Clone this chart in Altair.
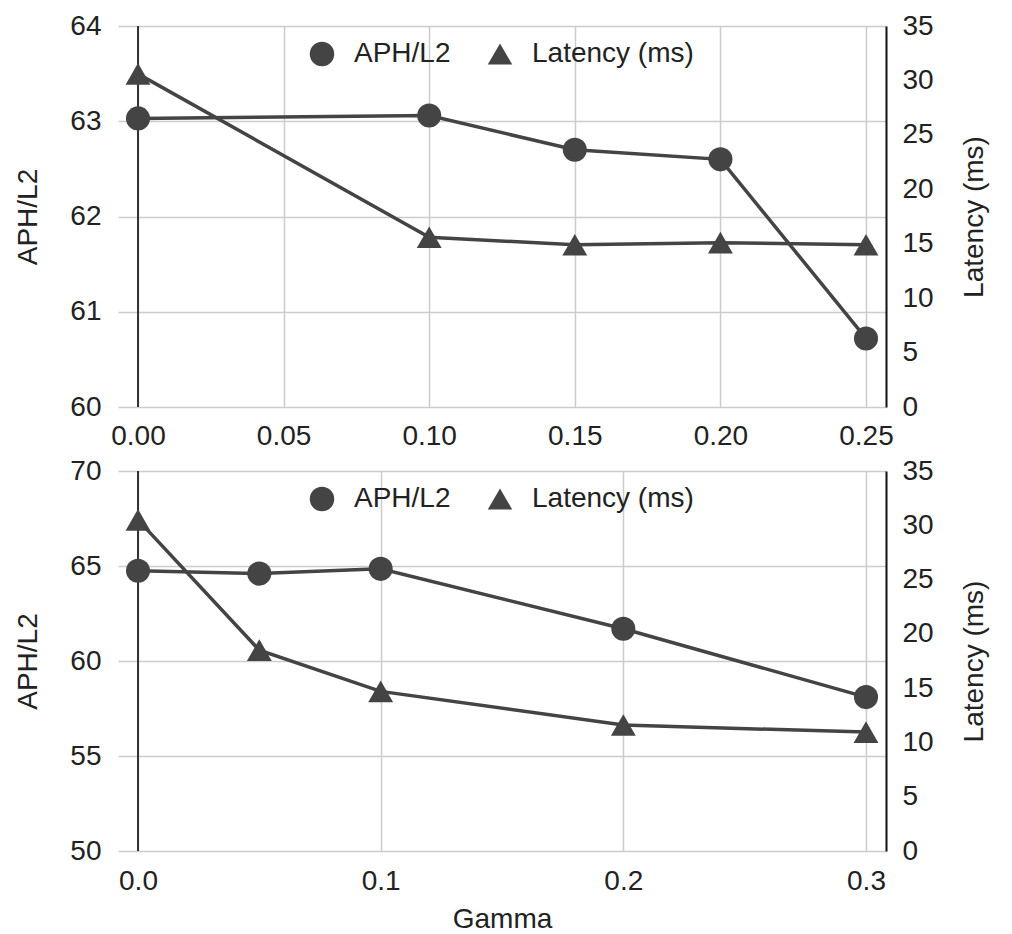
import altair as alt
import pandas as pd

# ---- data ----
top_gamma = [0.0, 0.10, 0.15, 0.20, 0.25]
top_aph = [63.03, 63.06, 62.70, 62.60, 60.72]
top_latency = [30.6, 15.6, 14.9, 15.1, 14.9]

bottom_gamma = [0.0, 0.05, 0.1, 0.2, 0.3]
bottom_aph = [64.75, 64.6, 64.85, 61.7, 58.1]
bottom_latency = [30.5, 18.5, 14.7, 11.6, 10.95]

series_names = ["APH/L2", "Latency (ms)"]
series_shapes = ["circle", "triangle-up"]

top_x_ticks = [0.0, 0.05, 0.10, 0.15, 0.20, 0.25]
bottom_x_ticks = [0.0, 0.1, 0.2, 0.3]
top_aph_ticks = [60, 61, 62, 63, 64]
bottom_aph_ticks = [50, 55, 60, 65, 70]
latency_ticks = [0, 5, 10, 15, 20, 25, 30, 35]

INK = "#444444"
TEXT = "#222222"
GRID = "#cccccc"
FONT = "Liberation Sans"
FS = 28


def panel(gamma, aph, lat, x_ticks, x_fmt, aph_ticks, x_title, height, x_label_pad):
    df = pd.DataFrame({"gamma": gamma, "aph": aph, "lat": lat})
    base = alt.Chart(df)

    x = alt.X("gamma:Q",
              scale=alt.Scale(domain=[x_ticks[0], x_ticks[-1]], padding=20, nice=False, zero=False),
              axis=alt.Axis(values=x_ticks, format=x_fmt, domain=False, ticks=False,
                            grid=True, gridColor=GRID, gridWidth=1.5,
                            labelPadding=x_label_pad, titlePadding=10),
              title=x_title)

    shape_scale = alt.Scale(domain=series_names, range=series_shapes)
    legend = alt.Legend(title=None, orient="none", legendX=190, legendY=14,
                        direction="horizontal", padding=0,
                        labelFont=FONT, labelFontSize=FS, labelColor=TEXT, labelLimit=400,
                        symbolSize=600, symbolFillColor=INK, symbolStrokeColor=INK,
                        symbolStrokeWidth=0, symbolOpacity=1,
                        labelOffset=18, columnPadding=35)

    rule = base.mark_rule(color="#333333", strokeWidth=2).encode(x=alt.datum(0))

    aph_y = alt.Y("aph:Q",
                  scale=alt.Scale(domain=[aph_ticks[0], aph_ticks[-1]], nice=False, zero=False),
                  axis=alt.Axis(orient="left", values=aph_ticks, domain=False, ticks=False,
                                grid=True, gridColor=GRID, gridWidth=1.5,
                                labelPadding=17, titlePadding=27),
                  title="APH/L2")
    aph_line = base.mark_line(color=INK, strokeWidth=3.5).encode(x=x, y=aph_y)
    aph_pts = base.transform_calculate(series="'APH/L2'").mark_point(
        filled=True, opacity=1, color=INK, size=580).encode(
        x=x, y=aph_y,
        shape=alt.Shape("series:N", scale=shape_scale, legend=legend))

    lat_y = alt.Y("lat:Q",
                  scale=alt.Scale(domain=[0, 35], nice=False, zero=False),
                  axis=alt.Axis(orient="right", values=latency_ticks, grid=False, ticks=False,
                                domain=True, domainColor="#111111", domainWidth=2,
                                labelPadding=16, titleAngle=270, titleBaseline="top",
                                titlePadding=27),
                  title="Latency (ms)")
    lat_line = base.mark_line(color=INK, strokeWidth=3.5).encode(x=x, y=lat_y)
    lat_pts = base.transform_calculate(series="'Latency (ms)'").mark_point(
        filled=True, opacity=1, color=INK, size=620).encode(
        x=x, y=lat_y,
        shape=alt.Shape("series:N", scale=shape_scale, legend=legend))

    return alt.layer(
        rule,
        alt.layer(aph_line, aph_pts),
        alt.layer(lat_line, lat_pts),
    ).resolve_scale(y="independent").properties(width=768, height=height)


top = panel(top_gamma, top_aph, top_latency, top_x_ticks, ".2f", top_aph_ticks, "", 381, 15)
bottom = panel(bottom_gamma, bottom_aph, bottom_latency, bottom_x_ticks, ".1f", bottom_aph_ticks,
               "Gamma", 380, 16)

chart = alt.vconcat(top, bottom, spacing=5).resolve_scale(
    x="independent", y="independent", shape="independent"
).properties(
    padding={"left": 6, "top": 3, "right": 5, "bottom": 5}
).configure_view(
    stroke="transparent"
).configure_axis(
    labelFont=FONT, titleFont=FONT, labelFontSize=FS, titleFontSize=FS,
    titleFontWeight="normal", labelColor=TEXT, titleColor=TEXT
)

chart.save("out.html", embed_options={"renderer": "svg", "actions": False})
